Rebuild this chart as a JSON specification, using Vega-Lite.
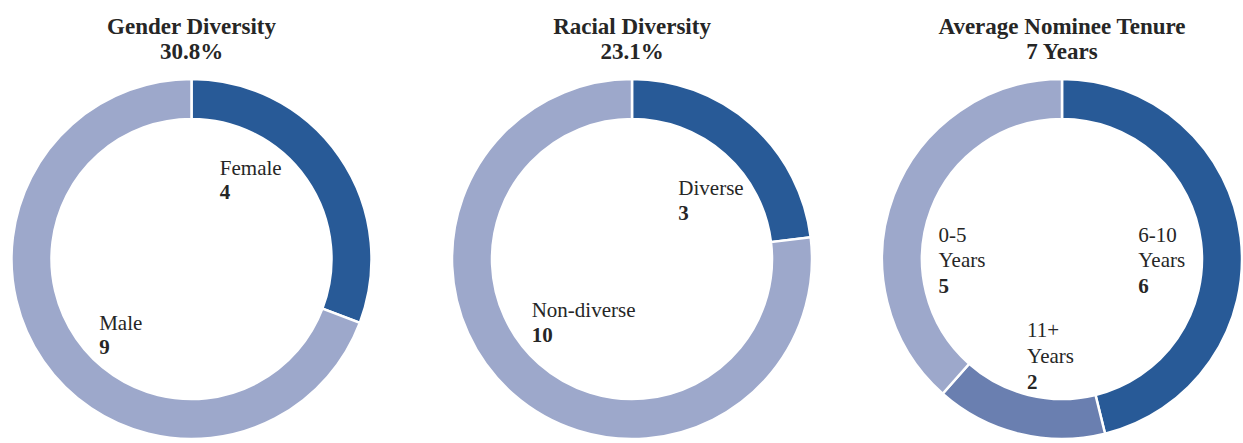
{
  "$schema": "https://vega.github.io/schema/vega-lite/v6.json",
  "padding": {"left": 0, "right": 0, "top": 16, "bottom": 0},
  "spacing": 0,
  "bounds": "flush",
  "background": "white",
  "config": {
    "view": {"stroke": null},
    "font": "Liberation Serif",
    "title": {"font": "Liberation Serif", "fontSize": 23, "fontWeight": "bold", "color": "#262626", "lineHeight": 25, "offset": 10, "anchor": "middle"},
    "text": {"font": "Liberation Serif", "fontSize": 21, "color": "#262626", "align": "left", "baseline": "alphabetic", "lineHeight": 25.5}
  },
  "data": {"values": [
    {"chart": "g", "cat": "Female", "n": 4, "k": 1},
    {"chart": "g", "cat": "Male", "n": 9, "k": 2},
    {"chart": "r", "cat": "Diverse", "n": 3, "k": 1},
    {"chart": "r", "cat": "Non-diverse", "n": 10, "k": 2},
    {"chart": "t", "cat": "6-10 Years", "n": 6, "k": 1},
    {"chart": "t", "cat": "11+ Years", "n": 2, "k": 2},
    {"chart": "t", "cat": "0-5 Years", "n": 5, "k": 3}
  ]},
  "hconcat": [
    {
      "width": 383, "height": 360,
      "title": {"text": ["Gender Diversity", "30.8%"]},
      "transform": [{"filter": "datum.chart == 'g'"}],
      "encoding": {
        "theta": {"field": "n", "type": "quantitative", "stack": true},
        "order": {"field": "k", "type": "quantitative"}
      },
      "layer": [
        {"mark": {"type": "arc", "outerRadius": 180, "innerRadius": 140, "stroke": "white", "strokeWidth": 2.5},
         "encoding": {"color": {"field": "cat", "type": "nominal", "legend": null,
           "scale": {"domain": ["Female", "Male", "Diverse", "Non-diverse", "6-10 Years", "11+ Years", "0-5 Years"],
                     "range": ["#285A97", "#9DA8CB", "#285A97", "#9DA8CB", "#285A97", "#6A7FB0", "#9DA8CB"]}}}},
        {"mark": {"type": "text", "radius": 100, "dx": -54, "dy": -27, "lineBreak": " "},
         "encoding": {"text": {"condition": {"test": "datum.cat == 'Female'", "field": "cat"}, "value": ""}}},
        {"mark": {"type": "text", "radius": 100, "dx": -54, "dy": -3, "fontWeight": "bold"},
         "encoding": {"text": {"condition": {"test": "datum.cat == 'Female'", "field": "n"}, "value": ""}}},
        {"mark": {"type": "text", "radius": 100, "dx": -10, "dy": 14, "lineBreak": " "},
         "encoding": {"text": {"condition": {"test": "datum.cat == 'Male'", "field": "cat"}, "value": ""}}},
        {"mark": {"type": "text", "radius": 100, "dx": -10, "dy": 38, "fontWeight": "bold"},
         "encoding": {"text": {"condition": {"test": "datum.cat == 'Male'", "field": "n"}, "value": ""}}}
      ]
    },
    {
      "width": 498, "height": 360,
      "title": {"text": ["Racial Diversity", "23.1%"]},
      "transform": [{"filter": "datum.chart == 'r'"}],
      "encoding": {
        "theta": {"field": "n", "type": "quantitative", "stack": true},
        "order": {"field": "k", "type": "quantitative"}
      },
      "layer": [
        {"mark": {"type": "arc", "outerRadius": 180, "innerRadius": 140, "stroke": "white", "strokeWidth": 2.5},
         "encoding": {"color": {"field": "cat", "type": "nominal", "legend": null,
           "scale": {"domain": ["Female", "Male", "Diverse", "Non-diverse", "6-10 Years", "11+ Years", "0-5 Years"],
                     "range": ["#285A97", "#9DA8CB", "#285A97", "#9DA8CB", "#285A97", "#6A7FB0", "#9DA8CB"]}}}},
        {"mark": {"type": "text", "radius": 100, "dx": -20, "dy": 11, "lineBreak": " "},
         "encoding": {"text": {"condition": {"test": "datum.cat == 'Diverse'", "field": "cat"}, "value": ""}}},
        {"mark": {"type": "text", "radius": 100, "dx": -20, "dy": 36, "fontWeight": "bold"},
         "encoding": {"text": {"condition": {"test": "datum.cat == 'Diverse'", "field": "n"}, "value": ""}}},
        {"mark": {"type": "text", "radius": 100, "dx": -34, "dy": -17, "lineBreak": " "},
         "encoding": {"text": {"condition": {"test": "datum.cat == 'Non-diverse'", "field": "cat"}, "value": ""}}},
        {"mark": {"type": "text", "radius": 100, "dx": -34, "dy": 8, "fontWeight": "bold"},
         "encoding": {"text": {"condition": {"test": "datum.cat == 'Non-diverse'", "field": "n"}, "value": ""}}}
      ]
    },
    {
      "width": 362, "height": 360,
      "title": {"text": ["Average Nominee Tenure", "7 Years"]},
      "transform": [{"filter": "datum.chart == 't'"}],
      "encoding": {
        "theta": {"field": "n", "type": "quantitative", "stack": true},
        "order": {"field": "k", "type": "quantitative"}
      },
      "layer": [
        {"mark": {"type": "arc", "outerRadius": 180, "innerRadius": 140, "stroke": "white", "strokeWidth": 2.5},
         "encoding": {"color": {"field": "cat", "type": "nominal", "legend": null,
           "scale": {"domain": ["Female", "Male", "Diverse", "Non-diverse", "6-10 Years", "11+ Years", "0-5 Years"],
                     "range": ["#285A97", "#9DA8CB", "#285A97", "#9DA8CB", "#285A97", "#6A7FB0", "#9DA8CB"]}}}},
        {"mark": {"type": "text", "radius": 100, "dx": -23, "dy": -5, "lineBreak": " "},
         "encoding": {"text": {"condition": {"test": "datum.cat == '6-10 Years'", "field": "cat"}, "value": ""}}},
        {"mark": {"type": "text", "radius": 100, "dx": -23, "dy": 46, "fontWeight": "bold"},
         "encoding": {"text": {"condition": {"test": "datum.cat == '6-10 Years'", "field": "n"}, "value": ""}}},
        {"mark": {"type": "text", "radius": 100, "dx": -11, "dy": -19, "lineBreak": " "},
         "encoding": {"text": {"condition": {"test": "datum.cat == '11+ Years'", "field": "cat"}, "value": ""}}},
        {"mark": {"type": "text", "radius": 100, "dx": -11, "dy": 33, "fontWeight": "bold"},
         "encoding": {"text": {"condition": {"test": "datum.cat == '11+ Years'", "field": "n"}, "value": ""}}},
        {"mark": {"type": "text", "radius": 100, "dx": -30, "dy": 18, "lineBreak": " "},
         "encoding": {"text": {"condition": {"test": "datum.cat == '0-5 Years'", "field": "cat"}, "value": ""}}},
        {"mark": {"type": "text", "radius": 100, "dx": -30, "dy": 69, "fontWeight": "bold"},
         "encoding": {"text": {"condition": {"test": "datum.cat == '0-5 Years'", "field": "n"}, "value": ""}}}
      ]
    }
  ]
}
